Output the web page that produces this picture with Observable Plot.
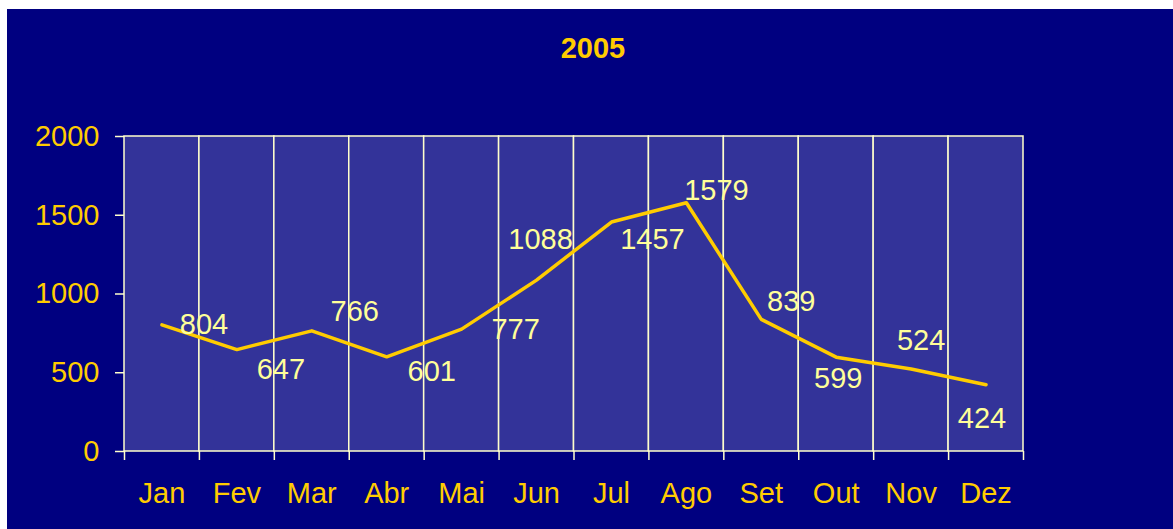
<!DOCTYPE html>
<html><head><meta charset="utf-8">
<script src="https://cdn.jsdelivr.net/npm/d3@7"></script>
<script src="https://cdn.jsdelivr.net/npm/@observablehq/plot@0.6"></script>
<style>
html,body{margin:0;padding:0;background:#fff;}
#chart{position:absolute;left:7px;top:9px;width:1166px;height:520px;background:#000080;overflow:hidden;}
#title{font:bold 29px "Liberation Sans",Arial,sans-serif;height:78px;line-height:78px;text-align:center;padding-left:6px;box-sizing:border-box;color:#FFCC00;}
#chart svg{display:block;}
</style></head><body>
<div id="chart"><div id="title"></div></div>
<script>
const title = "2005";
const months = ["Jan","Fev","Mar","Abr","Mai","Jun","Jul","Ago","Set","Out","Nov","Dez"];
const values = [804,647,766,601,777,1088,1457,1579,839,599,524,424];
const yTicks = [0,500,1000,1500,2000];

// label placement (pixels), layout only
const labelDx = [42,44,43,45,54,4,41,30,30,2,10,-4];
const labelDy = [0,20,-19,15,1,-40,18,-12,-18,22,-28,34];

const data = months.map((m,i)=>({month:m, value:values[i]}));

document.getElementById("title").textContent = title;

const W = 1166, H = 442, ML = 117, MR = 150, MT = 49, MB = 78;
const bw = (W-ML-MR)/months.length;
const grid = "#FFFFCC";
const FS = 29;

const plot = Plot.plot({
  width: W, height: H,
  marginLeft: ML, marginRight: MR, marginTop: MT, marginBottom: MB,
  style: {background:"transparent", color:"#FFCC00", fontFamily:'"Liberation Sans", Arial, sans-serif'},
  x: {type:"band", domain: months, padding: 0, round: false, axis: null},
  y: {domain: [yTicks[0], yTicks[yTicks.length-1]], axis: null},
  marks: [
    Plot.barY(data, {x:"month", y1: yTicks[0], y2: yTicks[yTicks.length-1], fill:"#333399", stroke: grid, strokeWidth:1.5}),
    Plot.axisY({ticks: yTicks, tickSize: 9, tickPadding: 16, fontSize: FS, stroke: grid, strokeWidth:1.5, label: null, tickFormat: d=>String(d)}),
    Plot.axisX({tickSize: 0, tickPadding: 31, fontSize: FS, label: null}),
    Plot.ruleX(data, {x:"month", y1: yTicks[0], y2: yTicks[0], dx: -bw/2, insetBottom: -9, stroke: grid, strokeWidth:1.5}),
    Plot.ruleX([data[data.length-1]], {x:"month", y1: yTicks[0], y2: yTicks[0], dx: bw/2, insetBottom: -9, stroke: grid, strokeWidth:1.5}),
    Plot.line(data, {x:"month", y:"value", stroke:"#FFCC00", strokeWidth:3.5}),
    ...data.map((d,i)=>Plot.text([d], {x:"month", y:"value", text: d=>String(d.value), dx: labelDx[i], dy: labelDy[i], fill:"#FFFF99", fontSize:FS}))
  ]
});
document.getElementById("chart").appendChild(plot);
</script>
</body></html>
